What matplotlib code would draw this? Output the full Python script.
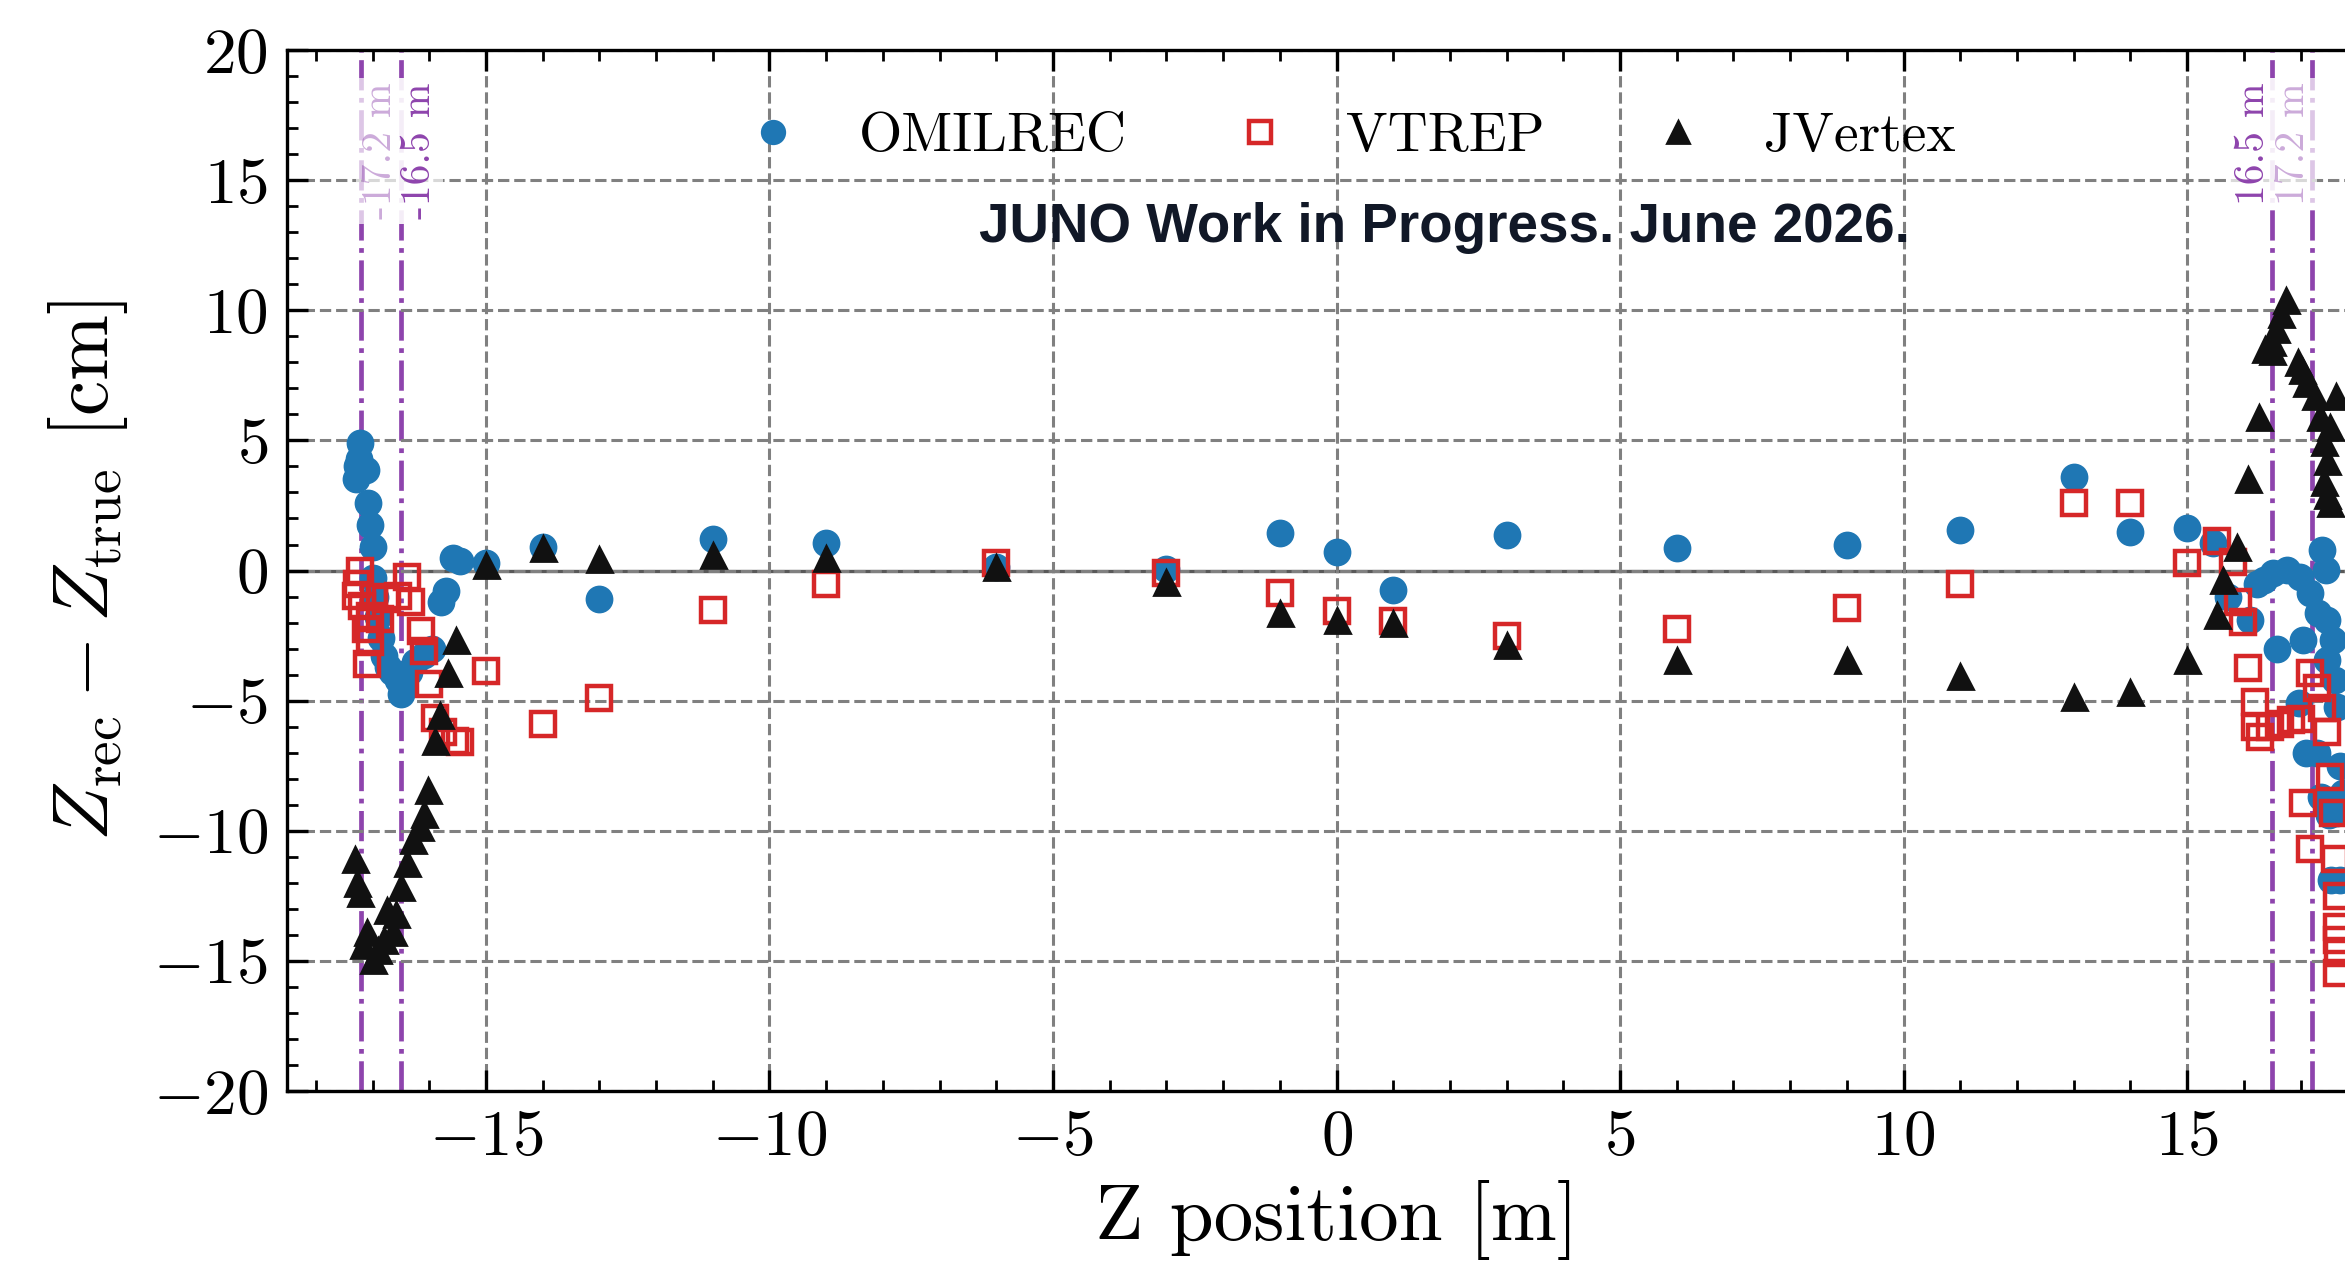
import matplotlib
matplotlib.use("Agg")
import matplotlib.pyplot as plt
from matplotlib.ticker import MultipleLocator

plt.rcParams['font.family'] = 'serif'
plt.rcParams['font.serif'] = ['cmr10']
plt.rcParams['mathtext.fontset'] = 'cm'
plt.rcParams['axes.formatter.use_mathtext'] = True

# OMILREC
omil_z = [-17.30, -17.27, -17.24, -17.22, -17.12, -17.08, -17.05, -17.00, -17.00, -16.95,
          -16.90, -16.85, -16.80, -16.73, -16.65, -16.55, -16.50, -16.45, -16.35, -16.25,
          -16.10, -15.95, -15.80, -15.70, -15.58, -15.45,
          -15, -14, -13, -11, -9, -6, -3, -1, 0, 1, 3, 6, 9, 11, 13, 14, 15,
          15.46, 15.72, 16.11, 16.24, 16.35, 16.52, 16.58, 16.76, 16.97, 16.99, 17.05, 17.10,
          17.17, 17.29, 17.30, 17.37, 17.38, 17.45, 17.46, 17.46, 17.50, 17.53, 17.58, 17.61,
          17.64, 17.64, 17.70, 17.70, 17.75]
omil_dz = [3.5, 4.0, 4.3, 4.9, 3.85, 2.6, 1.75, 0.9, -0.3, -1.0,
           -1.8, -2.6, -3.3, -3.7, -3.9, -4.2, -4.75, -4.3, -3.9, -3.5,
           -3.25, -3.0, -1.2, -0.8, 0.5, 0.35,
           0.3, 0.9, -1.1, 1.2, 1.05, 0.15, 0.05, 1.45, 0.7, -0.75, 1.35, 0.85, 1.0, 1.55, 3.6, 1.5, 1.65,
           1.05, -1.0, -1.9, -0.5, -0.36, -0.1, -3.0, 0.02, -5.1, -0.23, -2.67, -7.0,
           -0.87, -7.0, -1.64, -8.7, 0.79, 0.03, -1.9, -3.45, -9.4, -11.9, -2.67, -4.2,
           -5.25, -9.33, -7.5, -11.9, -8.55]

# VTREP
vtrep_z = [-17.30, -17.27, -17.22, -17.18, -17.12, -17.09, -17.04, -17.04, -16.98, -16.86,
           -16.77, -16.56, -16.39, -16.33, -16.15, -16.09, -16.00, -15.90, -15.75, -15.55, -15.45,
           -15, -14, -13, -11, -9, -6, -3, -1, 0, 1, 3, 6, 9, 11, 13, 14, 15,
           15.52, 15.81, 15.90, 15.99, 16.08, 16.19, 16.20, 16.29, 16.47, 16.64, 16.84, 17.00,
           17.05, 17.16, 17.17, 17.29, 17.38, 17.46, 17.52, 17.58, 17.61, 17.64, 17.65, 17.65,
           17.66, 17.64]
vtrep_dz = [-0.96, -0.51, 0.0, -1.35, -2.24, -3.59, -1.73, -2.76, -1.03, -1.86,
            -1.09, -0.96, -0.26, -1.22, -2.31, -3.08, -4.36, -5.65, -6.2, -6.55, -6.6,
            -3.85, -5.9, -4.9, -1.5, -0.5, 0.3, -0.1, -0.85, -1.55, -1.95, -2.5, -2.25, -1.45, -0.5, 2.6, 2.6, 0.3,
            1.15, 0.34, -1.2, -1.96, -3.75, -6.0, -5.05, -6.4, -6.0, -5.88, -5.75, -5.7,
            -8.95, -10.7, -3.95, -4.5, -5.3, -6.2, -7.92, -9.33, -11.1, -12.5, -13.7, -14.2,
            -14.7, -15.45]

# JVertex
jv_z = [-17.31, -17.28, -17.22, -17.16, -17.10, -16.99, -16.90, -16.80, -16.75, -16.64,
        -16.58, -16.49, -16.40, -16.28, -16.16, -16.10, -16.02, -15.90, -15.81, -15.67, -15.52,
        -15, -14, -13, -11, -9, -6, -3, -1, 0, 1, 3, 6, 9, 11, 13, 14, 15,
        15.52, 15.64, 15.88, 16.08, 16.26, 16.37, 16.49, 16.50, 16.57, 16.66, 16.75, 16.95,
        17.03, 17.10, 17.26, 17.35, 17.42, 17.42, 17.47, 17.47, 17.52, 17.52, 17.62]
jv_dz = [-11.1, -12.0, -12.4, -14.4, -13.9, -14.95, -14.6, -14.2, -13.05, -13.9,
         -13.2, -12.15, -11.25, -10.35, -9.85, -9.35, -8.45, -6.55, -5.55, -3.95, -2.65,
         0.2, 0.85, 0.45, 0.6, 0.5, 0.15, -0.45, -1.65, -1.9, -2.0, -2.85, -3.45, -3.45, -4.05, -4.85, -4.65, -3.45,
         -1.7, -0.36, 0.92, 3.5, 5.9, 8.5, 8.8, 8.45, 9.3, 9.85, 10.4, 8.0,
         7.7, 7.2, 6.7, 5.9, 4.95, 3.4, 4.2, 2.9, 5.5, 2.6, 6.7]

edges = [-17.2, -16.5, 16.5, 17.2]
edge_labels = ['-17.2 m', '-16.5 m', '16.5 m', '17.2 m']

purple = '#8e44ad'

fig = plt.figure(figsize=(11.725, 6.305), dpi=200)
ax = fig.add_axes([0.1226, 0.1348, 0.8947, 0.8255])

ax.grid(True, which='major', ls='--', color='0.5', lw=1.1, zorder=0)
ax.axhline(0, color='0.35', lw=1.2, zorder=1)

for e in edges:
    ax.axvline(e, color=purple, ls='-.', lw=1.7, zorder=1)

ax.plot(omil_z, omil_dz, 'o', color='#1f77b4', ms=9, label='OMILREC', zorder=3)
ax.plot(vtrep_z, vtrep_dz, 's', mfc='none', mec='#d62728', mew=1.6, ms=8.5,
        label='VTREP', zorder=4)
ax.plot(jv_z, jv_dz, '^', color='#111111', ms=9, label='JVertex', zorder=5)

# boundary labels, the 17.2 m ones fainter
for e, lab in zip(edges, edge_labels):
    a = 0.45 if abs(e) > 17 else 1.0
    ha = 'left' if e < 0 else 'right'
    ax.text(e, 18.75, lab, rotation=90, ha=ha, va='top', fontsize=15,
            color=(0.557, 0.267, 0.678, a), zorder=2,
            bbox=dict(boxstyle='square,pad=0.12', fc='white', ec='none', alpha=0.7))

ax.text(1.9, 12.62, 'JUNO Work in Progress. June 2026.', ha='center', va='baseline',
        fontsize=19.7, fontweight='bold', family='Liberation Sans', color='#111827', zorder=6)

ax.legend(loc='center', bbox_to_anchor=(0.5, 0.916), ncol=3, frameon=False, fontsize=20,
          handletextpad=0.55, columnspacing=1.4, markerscale=0.9)

ax.set_xlim(-18.5, 18.5)
ax.set_ylim(-20, 20)
ax.xaxis.set_major_locator(MultipleLocator(5))
ax.xaxis.set_minor_locator(MultipleLocator(1))
ax.yaxis.set_major_locator(MultipleLocator(5))
ax.yaxis.set_minor_locator(MultipleLocator(1))
ax.tick_params(which='both', direction='in', top=True, right=True, labelsize=23.5)
ax.tick_params(which='major', length=7.5, width=1.2, pad=7)
ax.tick_params(which='minor', length=4, width=1.0)
for s in ax.spines.values():
    s.set_linewidth(1.2)

ax.set_xlabel('Z position [m]', fontsize=28.5)
ax.set_ylabel(r'$Z_{\rm rec} - Z_{\rm true}$ [cm]', fontsize=28.5, labelpad=8)

fig.savefig('out.png', dpi=200)
